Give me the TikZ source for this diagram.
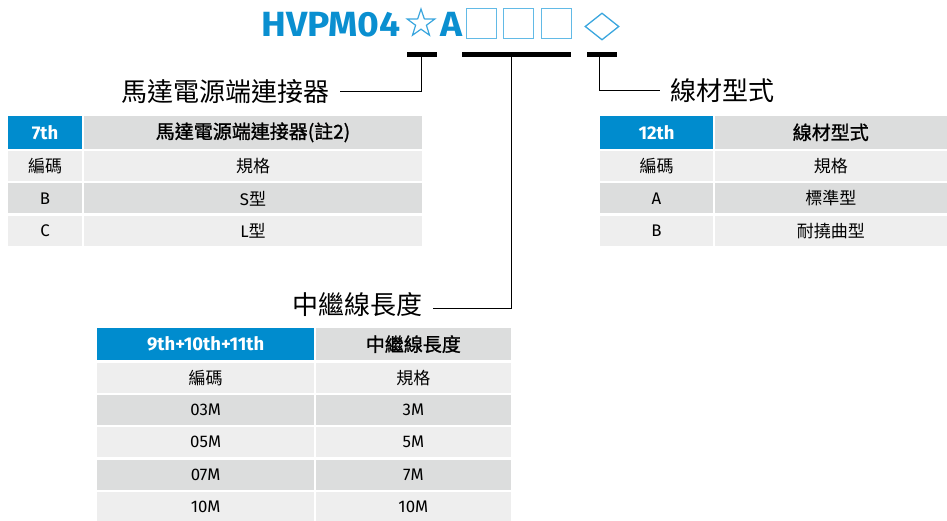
\documentclass[tikz,border=0pt]{standalone}
\usepackage{fontspec}
\usepackage{graphicx}
\setmainfont{Noto Sans CJK TC}
\newfontfamily\latf{Fira Sans}
\newfontfamily\cjkmed[FakeBold=1.2]{Noto Sans CJK TC}
\usetikzlibrary{shapes.geometric}
\definecolor{hblue}{HTML}{008CCE}
\definecolor{tblue}{HTML}{0A8FD0}
\definecolor{boxblue}{HTML}{62BAE6}
\definecolor{diablue}{HTML}{3AA6DE}
\definecolor{gdark}{HTML}{DCDDDD}
\definecolor{glight}{HTML}{EEEEEE}
\newcommand\lattxt[1]{{\latf\fontsize{16.8}{16.8}\selectfont #1}}
\begin{document}
\begin{tikzpicture}[x=1pt,y=-1pt,
  cell/.style={anchor=north west, inner sep=0pt, outer sep=0pt, minimum height=30pt, font=\fontsize{17}{17}\selectfont},
  hd/.style={cell, fill=hblue, text=white, font=\latf\bfseries\fontsize{18.5}{18.5}\selectfont, minimum height=32.7pt},
  hc/.style={cell, fill=gdark, font=\cjkmed\fontsize{19}{19}\selectfont, minimum height=32.7pt},
  dk/.style={cell, fill=gdark},
  lt/.style={cell, fill=glight},
  bar/.style={fill=black, inner sep=0pt, minimum height=5pt},
  conn/.style={draw=black, line width=1.2pt},
  lab/.style={font=\fontsize{26}{26}\selectfont, inner ysep=0pt, inner xsep=10pt},
  ttl/.style={anchor=base west, inner sep=0pt, text=tblue, font=\latf\bfseries\fontsize{35}{35}\selectfont},
  codebox/.style={draw=boxblue, line width=1.3pt, inner sep=0pt, minimum width=30pt, minimum height=30pt}
]
\useasboundingbox (0,0) rectangle (947,521);

% ---- title ----
\node[ttl] (t1) at (261,36.7) {\scalebox{1.065}[1]{HVPM04}};
\node[star, star points=5, star point ratio=2.55, draw=diablue, line width=1.2pt, minimum size=29pt, inner sep=0pt] (st) at (421,23.5) {};
\node[ttl] (t2) at (440,36.7) {\scalebox{1.065}[1]{A}};
\node[codebox] (c1) at (481.3,23.7) {};
\node[codebox] (c2) at (518.5,23.7) {};
\node[codebox] (c3) at (556.3,23.7) {};
\node[diamond, draw=diablue, line width=1.3pt, inner sep=0pt, minimum width=34pt, minimum height=27pt] (dm) at (602,26.5) {};

% ---- bars ----
\node[bar, minimum width=30pt] (b1) at (421.7,54.2) {};
\node[bar, minimum width=109pt] (b2) at (516.6,54.2) {};
\node[bar, minimum width=30pt] (b3) at (601.7,54.2) {};

% ---- labels ----
\node[lab, anchor=east] (l1) at (340,91.7) {馬達電源端連接器};
\node[lab, anchor=west] (l3) at (660,90.7) {線材型式};
\node[lab] (l2) at (357.3,304.2) {中繼線長度};

\draw[conn] (b1.south) |- (l1.east);
\draw[conn] ([xshift=-2pt]b3.south) |- (l3.west);
\draw[conn] ([xshift=-4.9pt]b2.south) |- ([yshift=-4.1pt]l2.east);

% ---- left table ----
\node[hd, minimum width=74pt] (a11) at (8,116) {7th};
\node[hc, minimum width=338pt] (a12) at (84,116) {馬達電源端連接器(註2)};
\node[lt, minimum width=74pt] (a21) at (8,150.7) {編碼};
\node[lt, minimum width=338pt] (a22) at (84,150.7) {規格};
\node[dk, minimum width=74pt] (a31) at (8,183.3) {\lattxt{B}};
\node[dk, minimum width=338pt] (a32) at (84,183.3) {\lattxt{S}型};
\node[lt, minimum width=74pt] (a41) at (8,216) {\lattxt{C}};
\node[lt, minimum width=338pt] (a42) at (84,216) {\lattxt{L}型};

% ---- right table ----
\node[hd, minimum width=113pt] (r11) at (600,116) {12th};
\node[hc, minimum width=232.5pt] (r12) at (714.5,116) {線材型式};
\node[lt, minimum width=113pt] (r21) at (600,150.7) {編碼};
\node[lt, minimum width=232.5pt] (r22) at (714.5,150.7) {規格};
\node[dk, minimum width=113pt] (r31) at (600,183.3) {\lattxt{A}};
\node[dk, minimum width=232.5pt] (r32) at (714.5,183.3) {標準型};
\node[lt, minimum width=113pt] (r41) at (600,216) {\lattxt{B}};
\node[lt, minimum width=232.5pt] (r42) at (714.5,216) {耐撓曲型};

% ---- bottom table ----
\node[hd, minimum width=216.7pt, minimum height=31.7pt] (m11) at (97.3,328.3) {9th+10th+11th};
\node[hc, minimum width=194.7pt, minimum height=31.7pt] (m12) at (316,328.3) {中繼線長度};
\node[lt, minimum width=216.7pt] (m21) at (97.3,362.7) {編碼};
\node[lt, minimum width=194.7pt] (m22) at (316,362.7) {規格};
\node[dk, minimum width=216.7pt] (m31) at (97.3,395) {\lattxt{03M}};
\node[dk, minimum width=194.7pt] (m32) at (316,395) {\lattxt{3M}};
\node[lt, minimum width=216.7pt] (m41) at (97.3,427.3) {\lattxt{05M}};
\node[lt, minimum width=194.7pt] (m42) at (316,427.3) {\lattxt{5M}};
\node[dk, minimum width=216.7pt, minimum height=29.5pt] (m51) at (97.3,460) {\lattxt{07M}};
\node[dk, minimum width=194.7pt, minimum height=29.5pt] (m52) at (316,460) {\lattxt{7M}};
\node[lt, minimum width=216.7pt, minimum height=29pt] (m61) at (97.3,492) {\lattxt{10M}};
\node[lt, minimum width=194.7pt, minimum height=29pt] (m62) at (316,492) {\lattxt{10M}};
\end{tikzpicture}
\end{document}
